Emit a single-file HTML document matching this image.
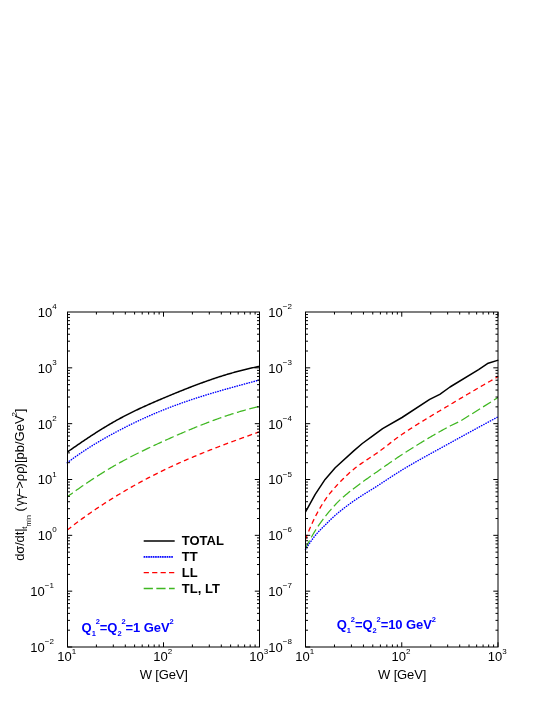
<!DOCTYPE html>
<html><head><meta charset="utf-8"><title>chart</title><style>html,body{margin:0;padding:0;background:#fff}body{width:545px;height:705px;overflow:hidden}</style></head><body>
<svg width="545" height="705" viewBox="0 0 545 705" style="display:block;will-change:transform">
<rect width="545" height="705" fill="#fff"/>
<g fill="none" stroke-linejoin="round">
<clipPath id="cl"><rect x="67.5" y="312" width="192" height="335"/></clipPath>
<path d="M65.30,498.27 L67.30,496.80 L68.30,496.07 L69.30,495.34 L70.30,494.61 L71.30,493.89 L72.30,493.16 L73.30,492.44 L74.30,491.73 L75.30,491.02 L76.30,490.31 L77.30,489.60 L78.30,488.90 L79.30,488.19 L80.30,487.50 L81.30,486.80 L82.30,486.11 L83.30,485.42 L84.30,484.74 L85.30,484.06 L86.30,483.38 L87.30,482.70 L88.30,482.03 L89.30,481.36 L90.30,480.70 L91.30,480.03 L92.30,479.38 L93.30,478.72 L94.30,478.07 L95.30,477.42 L96.30,476.78 L97.30,476.13 L98.30,475.50 L99.30,474.86 L100.30,474.23 L101.30,473.61 L102.30,472.98 L103.30,472.36 L104.30,471.75 L105.30,471.14 L106.30,470.53 L107.30,469.92 L108.30,469.32 L109.30,468.73 L110.30,468.13 L111.30,467.54 L112.30,466.96 L113.30,466.38 L114.30,465.80 L115.30,465.23 L116.30,464.66 L117.30,464.09 L118.30,463.53 L119.30,462.98 L120.30,462.42 L121.30,461.87 L122.30,461.33 L123.30,460.78 L124.30,460.24 L125.30,459.71 L126.30,459.18 L127.30,458.65 L128.30,458.12 L129.30,457.60 L130.30,457.08 L131.30,456.56 L132.30,456.05 L133.30,455.54 L134.30,455.03 L135.30,454.53 L136.30,454.02 L137.30,453.52 L138.30,453.03 L139.30,452.53 L140.30,452.04 L141.30,451.55 L142.30,451.07 L143.30,450.58 L144.30,450.10 L145.30,449.62 L146.30,449.14 L147.30,448.66 L148.30,448.19 L149.30,447.72 L150.30,447.24 L151.30,446.78 L152.30,446.31 L153.30,445.84 L154.30,445.38 L155.30,444.92 L156.30,444.46 L157.30,444.00 L158.30,443.54 L159.30,443.08 L160.30,442.63 L161.30,442.17 L162.30,441.72 L163.30,441.26 L164.30,440.81 L165.30,440.36 L166.30,439.91 L167.30,439.46 L168.30,439.02 L169.30,438.57 L170.30,438.12 L171.30,437.68 L172.30,437.24 L173.30,436.80 L174.30,436.36 L175.30,435.92 L176.30,435.48 L177.30,435.04 L178.30,434.61 L179.30,434.17 L180.30,433.74 L181.30,433.31 L182.30,432.88 L183.30,432.45 L184.30,432.03 L185.30,431.60 L186.30,431.18 L187.30,430.76 L188.30,430.33 L189.30,429.92 L190.30,429.50 L191.30,429.08 L192.30,428.67 L193.30,428.26 L194.30,427.85 L195.30,427.44 L196.30,427.04 L197.30,426.63 L198.30,426.23 L199.30,425.83 L200.30,425.43 L201.30,425.03 L202.30,424.64 L203.30,424.25 L204.30,423.86 L205.30,423.47 L206.30,423.08 L207.30,422.70 L208.30,422.32 L209.30,421.94 L210.30,421.56 L211.30,421.19 L212.30,420.82 L213.30,420.45 L214.30,420.08 L215.30,419.71 L216.30,419.35 L217.30,418.99 L218.30,418.63 L219.30,418.27 L220.30,417.92 L221.30,417.57 L222.30,417.22 L223.30,416.88 L224.30,416.54 L225.30,416.20 L226.30,415.86 L227.30,415.52 L228.30,415.19 L229.30,414.86 L230.30,414.54 L231.30,414.21 L232.30,413.89 L233.30,413.57 L234.30,413.26 L235.30,412.95 L236.30,412.64 L237.30,412.33 L238.30,412.03 L239.30,411.73 L240.30,411.43 L241.30,411.14 L242.30,410.85 L243.30,410.56 L244.30,410.28 L245.30,410.00 L246.30,409.72 L247.30,409.45 L248.30,409.18 L249.30,408.91 L250.30,408.64 L251.30,408.38 L252.30,408.13 L253.30,407.87 L254.30,407.62 L255.30,407.38 L256.30,407.13 L257.30,406.89 L258.30,406.66 L259.30,406.42 L259.40,406.40" stroke="#3fb721" stroke-width="1.25" stroke-dasharray="9.3 3.55" clip-path="url(#cl)"/>
<path d="M67.30,530.00 L68.30,529.21 L69.30,528.42 L70.30,527.64 L71.30,526.87 L72.30,526.09 L73.30,525.33 L74.30,524.56 L75.30,523.81 L76.30,523.05 L77.30,522.30 L78.30,521.56 L79.30,520.81 L80.30,520.08 L81.30,519.34 L82.30,518.61 L83.30,517.89 L84.30,517.17 L85.30,516.45 L86.30,515.74 L87.30,515.03 L88.30,514.32 L89.30,513.62 L90.30,512.92 L91.30,512.23 L92.30,511.54 L93.30,510.85 L94.30,510.17 L95.30,509.49 L96.30,508.82 L97.30,508.15 L98.30,507.48 L99.30,506.81 L100.30,506.15 L101.30,505.49 L102.30,504.84 L103.30,504.19 L104.30,503.54 L105.30,502.89 L106.30,502.25 L107.30,501.61 L108.30,500.98 L109.30,500.35 L110.30,499.72 L111.30,499.09 L112.30,498.47 L113.30,497.85 L114.30,497.23 L115.30,496.62 L116.30,496.00 L117.30,495.40 L118.30,494.79 L119.30,494.19 L120.30,493.59 L121.30,492.99 L122.30,492.39 L123.30,491.80 L124.30,491.21 L125.30,490.63 L126.30,490.04 L127.30,489.46 L128.30,488.89 L129.30,488.31 L130.30,487.74 L131.30,487.17 L132.30,486.60 L133.30,486.04 L134.30,485.48 L135.30,484.92 L136.30,484.36 L137.30,483.81 L138.30,483.26 L139.30,482.71 L140.30,482.17 L141.30,481.62 L142.30,481.08 L143.30,480.55 L144.30,480.01 L145.30,479.48 L146.30,478.95 L147.30,478.42 L148.30,477.90 L149.30,477.38 L150.30,476.86 L151.30,476.34 L152.30,475.83 L153.30,475.32 L154.30,474.81 L155.30,474.31 L156.30,473.80 L157.30,473.30 L158.30,472.81 L159.30,472.31 L160.30,471.82 L161.30,471.33 L162.30,470.84 L163.30,470.35 L164.30,469.87 L165.30,469.39 L166.30,468.91 L167.30,468.44 L168.30,467.97 L169.30,467.50 L170.30,467.03 L171.30,466.56 L172.30,466.10 L173.30,465.64 L174.30,465.18 L175.30,464.72 L176.30,464.27 L177.30,463.82 L178.30,463.37 L179.30,462.92 L180.30,462.48 L181.30,462.03 L182.30,461.59 L183.30,461.15 L184.30,460.71 L185.30,460.28 L186.30,459.85 L187.30,459.42 L188.30,458.99 L189.30,458.56 L190.30,458.13 L191.30,457.71 L192.30,457.29 L193.30,456.87 L194.30,456.45 L195.30,456.03 L196.30,455.62 L197.30,455.20 L198.30,454.79 L199.30,454.38 L200.30,453.97 L201.30,453.57 L202.30,453.16 L203.30,452.76 L204.30,452.36 L205.30,451.96 L206.30,451.56 L207.30,451.16 L208.30,450.76 L209.30,450.37 L210.30,449.97 L211.30,449.58 L212.30,449.19 L213.30,448.80 L214.30,448.41 L215.30,448.03 L216.30,447.64 L217.30,447.26 L218.30,446.87 L219.30,446.49 L220.30,446.11 L221.30,445.73 L222.30,445.35 L223.30,444.97 L224.30,444.59 L225.30,444.22 L226.30,443.84 L227.30,443.47 L228.30,443.10 L229.30,442.72 L230.30,442.35 L231.30,441.98 L232.30,441.61 L233.30,441.24 L234.30,440.87 L235.30,440.51 L236.30,440.14 L237.30,439.77 L238.30,439.41 L239.30,439.04 L240.30,438.68 L241.30,438.31 L242.30,437.95 L243.30,437.59 L244.30,437.23 L245.30,436.86 L246.30,436.50 L247.30,436.14 L248.30,435.78 L249.30,435.42 L250.30,435.06 L251.30,434.70 L252.30,434.34 L253.30,433.98 L254.30,433.63 L255.30,433.27 L256.30,432.91 L257.30,432.55 L258.30,432.19 L259.30,431.84 L259.40,431.80" stroke="#ff0000" stroke-width="1.3" stroke-dasharray="5 3.5"/>
<path d="M67.30,462.70 L68.30,461.95 L69.30,461.20 L70.30,460.46 L71.30,459.73 L72.30,459.00 L73.30,458.28 L74.30,457.56 L75.30,456.85 L76.30,456.15 L77.30,455.45 L78.30,454.75 L79.30,454.07 L80.30,453.39 L81.30,452.71 L82.30,452.04 L83.30,451.38 L84.30,450.72 L85.30,450.06 L86.30,449.41 L87.30,448.77 L88.30,448.13 L89.30,447.49 L90.30,446.86 L91.30,446.24 L92.30,445.62 L93.30,445.00 L94.30,444.39 L95.30,443.78 L96.30,443.18 L97.30,442.58 L98.30,441.99 L99.30,441.40 L100.30,440.81 L101.30,440.23 L102.30,439.65 L103.30,439.07 L104.30,438.50 L105.30,437.93 L106.30,437.37 L107.30,436.81 L108.30,436.25 L109.30,435.70 L110.30,435.15 L111.30,434.60 L112.30,434.06 L113.30,433.51 L114.30,432.98 L115.30,432.44 L116.30,431.91 L117.30,431.38 L118.30,430.85 L119.30,430.32 L120.30,429.80 L121.30,429.28 L122.30,428.77 L123.30,428.25 L124.30,427.74 L125.30,427.23 L126.30,426.73 L127.30,426.22 L128.30,425.72 L129.30,425.23 L130.30,424.73 L131.30,424.24 L132.30,423.75 L133.30,423.27 L134.30,422.78 L135.30,422.30 L136.30,421.82 L137.30,421.35 L138.30,420.88 L139.30,420.41 L140.30,419.94 L141.30,419.48 L142.30,419.02 L143.30,418.56 L144.30,418.10 L145.30,417.65 L146.30,417.20 L147.30,416.75 L148.30,416.31 L149.30,415.87 L150.30,415.43 L151.30,414.99 L152.30,414.56 L153.30,414.13 L154.30,413.70 L155.30,413.28 L156.30,412.86 L157.30,412.44 L158.30,412.02 L159.30,411.61 L160.30,411.20 L161.30,410.79 L162.30,410.38 L163.30,409.98 L164.30,409.58 L165.30,409.18 L166.30,408.79 L167.30,408.40 L168.30,408.01 L169.30,407.62 L170.30,407.24 L171.30,406.86 L172.30,406.48 L173.30,406.10 L174.30,405.73 L175.30,405.36 L176.30,404.99 L177.30,404.63 L178.30,404.26 L179.30,403.90 L180.30,403.54 L181.30,403.19 L182.30,402.83 L183.30,402.48 L184.30,402.13 L185.30,401.78 L186.30,401.44 L187.30,401.09 L188.30,400.75 L189.30,400.41 L190.30,400.08 L191.30,399.74 L192.30,399.41 L193.30,399.08 L194.30,398.75 L195.30,398.42 L196.30,398.09 L197.30,397.77 L198.30,397.45 L199.30,397.13 L200.30,396.81 L201.30,396.49 L202.30,396.18 L203.30,395.86 L204.30,395.55 L205.30,395.24 L206.30,394.93 L207.30,394.62 L208.30,394.32 L209.30,394.01 L210.30,393.71 L211.30,393.41 L212.30,393.11 L213.30,392.81 L214.30,392.51 L215.30,392.22 L216.30,391.92 L217.30,391.63 L218.30,391.34 L219.30,391.05 L220.30,390.76 L221.30,390.47 L222.30,390.18 L223.30,389.89 L224.30,389.61 L225.30,389.32 L226.30,389.04 L227.30,388.76 L228.30,388.47 L229.30,388.19 L230.30,387.91 L231.30,387.63 L232.30,387.35 L233.30,387.08 L234.30,386.80 L235.30,386.52 L236.30,386.25 L237.30,385.97 L238.30,385.70 L239.30,385.42 L240.30,385.15 L241.30,384.88 L242.30,384.61 L243.30,384.33 L244.30,384.06 L245.30,383.79 L246.30,383.52 L247.30,383.25 L248.30,382.98 L249.30,382.71 L250.30,382.44 L251.30,382.17 L252.30,381.91 L253.30,381.64 L254.30,381.37 L255.30,381.10 L256.30,380.83 L257.30,380.56 L258.30,380.29 L259.30,380.03 L259.40,380.00" stroke="#0000ff" stroke-width="1.45" stroke-linecap="round" stroke-dasharray="0.3 2.2"/>
<path d="M67.30,452.10 L68.30,451.40 L69.30,450.70 L70.30,450.00 L71.30,449.31 L72.30,448.61 L73.30,447.92 L74.30,447.22 L75.30,446.53 L76.30,445.84 L77.30,445.16 L78.30,444.47 L79.30,443.78 L80.30,443.10 L81.30,442.42 L82.30,441.74 L83.30,441.06 L84.30,440.39 L85.30,439.72 L86.30,439.05 L87.30,438.38 L88.30,437.71 L89.30,437.05 L90.30,436.39 L91.30,435.73 L92.30,435.08 L93.30,434.43 L94.30,433.78 L95.30,433.14 L96.30,432.49 L97.30,431.86 L98.30,431.22 L99.30,430.59 L100.30,429.96 L101.30,429.34 L102.30,428.72 L103.30,428.10 L104.30,427.49 L105.30,426.88 L106.30,426.27 L107.30,425.67 L108.30,425.08 L109.30,424.49 L110.30,423.90 L111.30,423.32 L112.30,422.74 L113.30,422.16 L114.30,421.60 L115.30,421.03 L116.30,420.47 L117.30,419.92 L118.30,419.37 L119.30,418.82 L120.30,418.28 L121.30,417.75 L122.30,417.22 L123.30,416.69 L124.30,416.17 L125.30,415.65 L126.30,415.13 L127.30,414.62 L128.30,414.11 L129.30,413.61 L130.30,413.11 L131.30,412.62 L132.30,412.12 L133.30,411.64 L134.30,411.15 L135.30,410.67 L136.30,410.19 L137.30,409.71 L138.30,409.24 L139.30,408.77 L140.30,408.30 L141.30,407.84 L142.30,407.38 L143.30,406.92 L144.30,406.46 L145.30,406.01 L146.30,405.56 L147.30,405.11 L148.30,404.66 L149.30,404.22 L150.30,403.78 L151.30,403.34 L152.30,402.90 L153.30,402.46 L154.30,402.03 L155.30,401.59 L156.30,401.16 L157.30,400.73 L158.30,400.30 L159.30,399.87 L160.30,399.45 L161.30,399.02 L162.30,398.60 L163.30,398.17 L164.30,397.75 L165.30,397.33 L166.30,396.91 L167.30,396.49 L168.30,396.07 L169.30,395.65 L170.30,395.24 L171.30,394.82 L172.30,394.41 L173.30,393.99 L174.30,393.58 L175.30,393.17 L176.30,392.76 L177.30,392.35 L178.30,391.95 L179.30,391.54 L180.30,391.14 L181.30,390.74 L182.30,390.34 L183.30,389.94 L184.30,389.54 L185.30,389.14 L186.30,388.75 L187.30,388.35 L188.30,387.96 L189.30,387.57 L190.30,387.19 L191.30,386.80 L192.30,386.42 L193.30,386.03 L194.30,385.65 L195.30,385.27 L196.30,384.90 L197.30,384.52 L198.30,384.15 L199.30,383.78 L200.30,383.41 L201.30,383.04 L202.30,382.68 L203.30,382.32 L204.30,381.96 L205.30,381.60 L206.30,381.24 L207.30,380.89 L208.30,380.54 L209.30,380.19 L210.30,379.84 L211.30,379.50 L212.30,379.16 L213.30,378.82 L214.30,378.48 L215.30,378.15 L216.30,377.81 L217.30,377.48 L218.30,377.16 L219.30,376.83 L220.30,376.51 L221.30,376.19 L222.30,375.88 L223.30,375.57 L224.30,375.26 L225.30,374.95 L226.30,374.64 L227.30,374.34 L228.30,374.04 L229.30,373.75 L230.30,373.46 L231.30,373.17 L232.30,372.88 L233.30,372.60 L234.30,372.32 L235.30,372.04 L236.30,371.77 L237.30,371.49 L238.30,371.23 L239.30,370.96 L240.30,370.70 L241.30,370.44 L242.30,370.19 L243.30,369.94 L244.30,369.69 L245.30,369.45 L246.30,369.21 L247.30,368.97 L248.30,368.74 L249.30,368.51 L250.30,368.28 L251.30,368.06 L252.30,367.84 L253.30,367.63 L254.30,367.42 L255.30,367.21 L256.30,367.01 L257.30,366.81 L258.30,366.61 L259.30,366.42 L259.40,366.40" stroke="#000" stroke-width="1.5"/>
<clipPath id="cr"><rect x="305.5" y="312" width="192.5" height="335"/></clipPath>
<path d="M305.30,548.80 L305.50,548.40 L306.50,546.40 L307.50,544.44 L308.50,542.51 L309.50,540.63 L310.50,538.78 L311.50,536.98 L312.50,535.23 L313.50,533.52 L314.50,531.85 L315.50,530.24 L316.50,528.67 L317.50,527.15 L318.50,525.66 L319.50,524.21 L320.50,522.79 L321.50,521.40 L322.50,520.04 L323.50,518.71 L324.50,517.40 L325.50,516.12 L326.50,514.86 L327.50,513.62 L328.50,512.41 L329.50,511.22 L330.50,510.05 L331.50,508.90 L332.50,507.77 L333.50,506.66 L334.50,505.56 L335.50,504.48 L336.50,503.41 L337.50,502.36 L338.50,501.35 L339.50,500.37 L340.50,499.44 L341.50,498.53 L342.50,497.64 L343.50,496.76 L344.50,495.91 L345.50,495.06 L346.50,494.24 L347.50,493.42 L348.50,492.61 L349.50,491.81 L350.50,491.02 L351.50,490.24 L352.50,489.46 L353.50,488.69 L354.50,487.91 L355.50,487.15 L356.50,486.39 L357.50,485.64 L358.50,484.90 L359.50,484.16 L360.50,483.43 L361.50,482.70 L362.50,481.98 L363.50,481.26 L364.50,480.55 L365.50,479.84 L366.50,479.13 L367.50,478.43 L368.50,477.73 L369.50,477.03 L370.50,476.33 L371.50,475.63 L372.50,474.94 L373.50,474.24 L374.50,473.55 L375.50,472.85 L376.50,472.15 L377.50,471.45 L378.50,470.75 L379.50,470.05 L380.50,469.34 L381.50,468.64 L382.50,467.93 L383.50,467.23 L384.50,466.53 L385.50,465.82 L386.50,465.12 L387.50,464.42 L388.50,463.72 L389.50,463.02 L390.50,462.33 L391.50,461.64 L392.50,460.95 L393.50,460.26 L394.50,459.58 L395.50,458.90 L396.50,458.22 L397.50,457.55 L398.50,456.89 L399.50,456.23 L400.50,455.57 L401.50,454.92 L402.50,454.28 L403.50,453.64 L404.50,453.00 L405.50,452.36 L406.50,451.72 L407.50,451.08 L408.50,450.45 L409.50,449.82 L410.50,449.19 L411.50,448.56 L412.50,447.93 L413.50,447.30 L414.50,446.68 L415.50,446.06 L416.50,445.44 L417.50,444.82 L418.50,444.20 L419.50,443.59 L420.50,442.98 L421.50,442.37 L422.50,441.76 L423.50,441.15 L424.50,440.55 L425.50,439.95 L426.50,439.35 L427.50,438.75 L428.50,438.16 L429.50,437.56 L430.50,436.97 L431.50,436.39 L432.50,435.80 L433.50,435.22 L434.50,434.64 L435.50,434.06 L436.50,433.49 L437.50,432.92 L438.50,432.35 L439.50,431.78 L440.50,431.22 L441.50,430.65 L442.50,430.10 L443.50,429.54 L444.50,428.99 L445.50,428.44 L446.50,427.89 L447.50,427.35 L448.50,426.81 L449.50,426.27 L450.00,426.00 L460.10,421.30 L498.30,397.30" stroke="#3fb721" stroke-width="1.25" stroke-dasharray="9.3 3.55" clip-path="url(#cr)"/>
<path d="M305.50,539.40 L306.50,536.81 L307.50,534.27 L308.50,531.79 L309.50,529.37 L310.50,527.02 L311.50,524.73 L312.50,522.52 L313.50,520.37 L314.50,518.30 L315.50,516.30 L316.50,514.37 L317.50,512.50 L318.50,510.67 L319.50,508.90 L320.50,507.18 L321.50,505.52 L322.50,503.90 L323.50,502.34 L324.50,500.83 L325.50,499.37 L326.50,497.95 L327.50,496.58 L328.50,495.25 L329.50,493.96 L330.50,492.70 L331.50,491.48 L332.50,490.28 L333.50,489.12 L334.50,487.98 L335.50,486.87 L336.50,485.77 L337.50,484.68 L338.50,483.61 L339.50,482.56 L340.50,481.52 L341.50,480.49 L342.50,479.48 L343.50,478.49 L344.50,477.50 L345.50,476.54 L346.50,475.59 L347.50,474.66 L348.50,473.74 L349.50,472.84 L350.50,471.96 L351.50,471.09 L352.50,470.24 L353.50,469.41 L354.50,468.60 L355.50,467.80 L356.50,467.03 L357.50,466.27 L358.50,465.53 L359.50,464.81 L360.50,464.10 L361.50,463.40 L362.50,462.71 L363.50,462.03 L364.50,461.36 L365.50,460.70 L366.50,460.04 L367.50,459.38 L368.50,458.72 L369.50,458.07 L370.50,457.41 L371.50,456.75 L372.50,456.09 L373.50,455.42 L374.50,454.75 L375.50,454.06 L376.50,453.37 L377.50,452.66 L378.50,451.94 L379.50,451.21 L380.50,450.47 L381.50,449.73 L382.50,448.98 L383.50,448.22 L384.50,447.46 L385.50,446.70 L386.50,445.93 L387.50,445.16 L388.50,444.39 L389.50,443.62 L390.50,442.86 L391.50,442.09 L392.50,441.33 L393.50,440.57 L394.50,439.81 L395.50,439.07 L396.50,438.32 L397.50,437.59 L398.50,436.86 L399.50,436.15 L400.50,435.44 L401.50,434.74 L402.50,434.06 L403.50,433.38 L404.50,432.71 L405.50,432.04 L406.50,431.37 L407.50,430.71 L408.50,430.05 L409.50,429.40 L410.50,428.75 L411.50,428.10 L412.50,427.46 L413.50,426.82 L414.50,426.18 L415.50,425.55 L416.50,424.92 L417.50,424.29 L418.50,423.66 L419.50,423.04 L420.50,422.42 L421.50,421.81 L422.50,421.19 L423.50,420.58 L424.50,419.97 L425.50,419.36 L426.50,418.75 L427.50,418.15 L428.50,417.54 L429.50,416.94 L430.50,416.34 L431.50,415.74 L432.50,415.14 L433.50,414.54 L434.50,413.94 L435.50,413.35 L436.50,412.75 L437.50,412.16 L438.50,411.56 L439.50,410.97 L440.50,410.37 L441.50,409.78 L442.50,409.18 L443.50,408.59 L444.50,407.99 L445.50,407.39 L446.50,406.80 L447.50,406.20 L448.50,405.60 L449.50,405.00 L450.50,404.40 L451.50,403.80 L452.50,403.20 L453.50,402.60 L454.50,402.00 L455.50,401.41 L456.50,400.81 L457.50,400.21 L458.50,399.62 L459.50,399.02 L460.50,398.43 L461.50,397.84 L462.50,397.24 L463.50,396.65 L464.50,396.06 L465.50,395.47 L466.50,394.88 L467.50,394.29 L468.50,393.70 L469.50,393.12 L470.50,392.53 L471.50,391.94 L472.50,391.36 L473.50,390.77 L474.50,390.19 L475.50,389.60 L476.50,389.02 L477.50,388.44 L478.50,387.86 L479.50,387.28 L480.50,386.70 L481.50,386.12 L482.50,385.54 L483.50,384.96 L484.50,384.39 L485.50,383.81 L486.50,383.23 L487.50,382.66 L488.50,382.09 L489.50,381.51 L490.50,380.94 L491.50,380.37 L492.50,379.80 L493.50,379.23 L494.50,378.66 L495.50,378.09 L496.50,377.52 L497.50,376.95 L498.30,376.50" stroke="#ff0000" stroke-width="1.3" stroke-dasharray="5 3.5"/>
<path d="M305.50,549.70 L306.50,548.07 L307.50,546.47 L308.50,544.90 L309.50,543.38 L310.50,541.90 L311.50,540.46 L312.50,539.07 L313.50,537.72 L314.50,536.43 L315.50,535.18 L316.50,533.98 L317.50,532.84 L318.50,531.73 L319.50,530.67 L320.50,529.63 L321.50,528.61 L322.50,527.60 L323.50,526.60 L324.50,525.60 L325.50,524.60 L326.50,523.59 L327.50,522.60 L328.50,521.61 L329.50,520.63 L330.50,519.66 L331.50,518.70 L332.50,517.76 L333.50,516.83 L334.50,515.92 L335.50,515.04 L336.50,514.17 L337.50,513.33 L338.50,512.51 L339.50,511.70 L340.50,510.90 L341.50,510.11 L342.50,509.33 L343.50,508.55 L344.50,507.77 L345.50,507.01 L346.50,506.25 L347.50,505.50 L348.50,504.75 L349.50,504.01 L350.50,503.28 L351.50,502.56 L352.50,501.85 L353.50,501.15 L354.50,500.45 L355.50,499.77 L356.50,499.09 L357.50,498.43 L358.50,497.77 L359.50,497.11 L360.50,496.47 L361.50,495.82 L362.50,495.19 L363.50,494.56 L364.50,493.93 L365.50,493.30 L366.50,492.68 L367.50,492.06 L368.50,491.44 L369.50,490.82 L370.50,490.20 L371.50,489.59 L372.50,488.96 L373.50,488.34 L374.50,487.72 L375.50,487.09 L376.50,486.46 L377.50,485.82 L378.50,485.18 L379.50,484.53 L380.50,483.88 L381.50,483.23 L382.50,482.58 L383.50,481.92 L384.50,481.27 L385.50,480.61 L386.50,479.95 L387.50,479.29 L388.50,478.63 L389.50,477.97 L390.50,477.31 L391.50,476.66 L392.50,476.01 L393.50,475.36 L394.50,474.71 L395.50,474.07 L396.50,473.43 L397.50,472.79 L398.50,472.16 L399.50,471.54 L400.50,470.92 L401.50,470.30 L402.50,469.70 L403.50,469.09 L404.50,468.50 L405.50,467.90 L406.50,467.30 L407.50,466.71 L408.50,466.13 L409.50,465.54 L410.50,464.96 L411.50,464.38 L412.50,463.80 L413.50,463.22 L414.50,462.65 L415.50,462.08 L416.50,461.51 L417.50,460.94 L418.50,460.38 L419.50,459.81 L420.50,459.25 L421.50,458.69 L422.50,458.13 L423.50,457.57 L424.50,457.02 L425.50,456.46 L426.50,455.91 L427.50,455.35 L428.50,454.80 L429.50,454.25 L430.50,453.70 L431.50,453.15 L432.50,452.60 L433.50,452.05 L434.50,451.51 L435.50,450.96 L436.50,450.41 L437.50,449.86 L438.50,449.32 L439.50,448.77 L440.50,448.22 L441.50,447.67 L442.50,447.13 L443.50,446.58 L444.50,446.03 L445.50,445.48 L446.50,444.93 L447.50,444.38 L448.50,443.83 L449.50,443.28 L450.50,442.72 L451.50,442.17 L452.50,441.62 L453.50,441.07 L454.50,440.51 L455.50,439.96 L456.50,439.41 L457.50,438.86 L458.50,438.31 L459.50,437.76 L460.50,437.21 L461.50,436.66 L462.50,436.11 L463.50,435.56 L464.50,435.01 L465.50,434.47 L466.50,433.92 L467.50,433.37 L468.50,432.82 L469.50,432.28 L470.50,431.73 L471.50,431.19 L472.50,430.64 L473.50,430.10 L474.50,429.55 L475.50,429.01 L476.50,428.46 L477.50,427.92 L478.50,427.38 L479.50,426.83 L480.50,426.29 L481.50,425.75 L482.50,425.21 L483.50,424.67 L484.50,424.13 L485.50,423.59 L486.50,423.05 L487.50,422.51 L488.50,421.97 L489.50,421.43 L490.50,420.89 L491.50,420.35 L492.50,419.81 L493.50,419.27 L494.50,418.74 L495.50,418.20 L496.50,417.66 L497.50,417.13 L498.30,416.70" stroke="#0000ff" stroke-width="1.45" stroke-linecap="round" stroke-dasharray="0.3 2.2"/>
<path d="M305.50,512.00 L315.20,494.40 L325.10,479.40 L335.20,467.80 L354.00,450.60 L362.30,443.50 L372.40,436.10 L382.60,428.70 L402.00,417.50 L429.70,399.40 L439.80,394.30 L450.00,387.00 L478.60,369.60 L488.20,363.20 L498.30,360.10" stroke="#000" stroke-width="1.5"/>
</g>
<g stroke="#000" stroke-width="1" fill="none" shape-rendering="auto">
<rect x="67.5" y="312.0" width="192.00" height="335.00"/>
<path d="M67.5,351.03h2.5M259.5,351.03h-2.5M67.5,341.19h2.5M259.5,341.19h-2.5M67.5,334.22h2.5M259.5,334.22h-2.5M67.5,328.81h2.5M259.5,328.81h-2.5M67.5,324.39h2.5M259.5,324.39h-2.5M67.5,320.65h2.5M259.5,320.65h-2.5M67.5,317.41h2.5M259.5,317.41h-2.5M67.5,314.55h2.5M259.5,314.55h-2.5M67.5,367.83h4.7M259.5,367.83h-4.7M67.5,406.86h2.5M259.5,406.86h-2.5M67.5,397.03h2.5M259.5,397.03h-2.5M67.5,390.05h2.5M259.5,390.05h-2.5M67.5,384.64h2.5M259.5,384.64h-2.5M67.5,380.22h2.5M259.5,380.22h-2.5M67.5,376.48h2.5M259.5,376.48h-2.5M67.5,373.24h2.5M259.5,373.24h-2.5M67.5,370.39h2.5M259.5,370.39h-2.5M67.5,423.67h4.7M259.5,423.67h-4.7M67.5,462.69h2.5M259.5,462.69h-2.5M67.5,452.86h2.5M259.5,452.86h-2.5M67.5,445.88h2.5M259.5,445.88h-2.5M67.5,440.47h2.5M259.5,440.47h-2.5M67.5,436.05h2.5M259.5,436.05h-2.5M67.5,432.32h2.5M259.5,432.32h-2.5M67.5,429.08h2.5M259.5,429.08h-2.5M67.5,426.22h2.5M259.5,426.22h-2.5M67.5,479.50h4.7M259.5,479.50h-4.7M67.5,518.53h2.5M259.5,518.53h-2.5M67.5,508.69h2.5M259.5,508.69h-2.5M67.5,501.72h2.5M259.5,501.72h-2.5M67.5,496.31h2.5M259.5,496.31h-2.5M67.5,491.89h2.5M259.5,491.89h-2.5M67.5,488.15h2.5M259.5,488.15h-2.5M67.5,484.91h2.5M259.5,484.91h-2.5M67.5,482.05h2.5M259.5,482.05h-2.5M67.5,535.33h4.7M259.5,535.33h-4.7M67.5,574.36h2.5M259.5,574.36h-2.5M67.5,564.53h2.5M259.5,564.53h-2.5M67.5,557.55h2.5M259.5,557.55h-2.5M67.5,552.14h2.5M259.5,552.14h-2.5M67.5,547.72h2.5M259.5,547.72h-2.5M67.5,543.98h2.5M259.5,543.98h-2.5M67.5,540.74h2.5M259.5,540.74h-2.5M67.5,537.89h2.5M259.5,537.89h-2.5M67.5,591.17h4.7M259.5,591.17h-4.7M67.5,630.19h2.5M259.5,630.19h-2.5M67.5,620.36h2.5M259.5,620.36h-2.5M67.5,613.38h2.5M259.5,613.38h-2.5M67.5,607.97h2.5M259.5,607.97h-2.5M67.5,603.55h2.5M259.5,603.55h-2.5M67.5,599.82h2.5M259.5,599.82h-2.5M67.5,596.58h2.5M259.5,596.58h-2.5M67.5,593.72h2.5M259.5,593.72h-2.5M67.5,647.00h4.7M67.50,647.0v-4.7M67.50,312.0v4.7M96.40,647.0v-2.5M96.40,312.0v2.5M113.30,647.0v-2.5M113.30,312.0v2.5M125.30,647.0v-2.5M125.30,312.0v2.5M134.60,647.0v-2.5M134.60,312.0v2.5M142.20,647.0v-2.5M142.20,312.0v2.5M148.63,647.0v-2.5M148.63,312.0v2.5M154.20,647.0v-2.5M154.20,312.0v2.5M159.11,647.0v-2.5M159.11,312.0v2.5M163.50,647.0v-4.7M163.50,312.0v4.7M192.40,647.0v-2.5M192.40,312.0v2.5M209.30,647.0v-2.5M209.30,312.0v2.5M221.30,647.0v-2.5M221.30,312.0v2.5M230.60,647.0v-2.5M230.60,312.0v2.5M238.20,647.0v-2.5M238.20,312.0v2.5M244.63,647.0v-2.5M244.63,312.0v2.5M250.20,647.0v-2.5M250.20,312.0v2.5M255.11,647.0v-2.5M255.11,312.0v2.5M259.50,647.0v-4.7M259.50,312.0v4.7"/>
<rect x="305.5" y="312.0" width="192.50" height="335.00"/>
<path d="M305.5,351.03h2.5M498.0,351.03h-2.5M305.5,341.19h2.5M498.0,341.19h-2.5M305.5,334.22h2.5M498.0,334.22h-2.5M305.5,328.81h2.5M498.0,328.81h-2.5M305.5,324.39h2.5M498.0,324.39h-2.5M305.5,320.65h2.5M498.0,320.65h-2.5M305.5,317.41h2.5M498.0,317.41h-2.5M305.5,314.55h2.5M498.0,314.55h-2.5M305.5,367.83h4.7M498.0,367.83h-4.7M305.5,406.86h2.5M498.0,406.86h-2.5M305.5,397.03h2.5M498.0,397.03h-2.5M305.5,390.05h2.5M498.0,390.05h-2.5M305.5,384.64h2.5M498.0,384.64h-2.5M305.5,380.22h2.5M498.0,380.22h-2.5M305.5,376.48h2.5M498.0,376.48h-2.5M305.5,373.24h2.5M498.0,373.24h-2.5M305.5,370.39h2.5M498.0,370.39h-2.5M305.5,423.67h4.7M498.0,423.67h-4.7M305.5,462.69h2.5M498.0,462.69h-2.5M305.5,452.86h2.5M498.0,452.86h-2.5M305.5,445.88h2.5M498.0,445.88h-2.5M305.5,440.47h2.5M498.0,440.47h-2.5M305.5,436.05h2.5M498.0,436.05h-2.5M305.5,432.32h2.5M498.0,432.32h-2.5M305.5,429.08h2.5M498.0,429.08h-2.5M305.5,426.22h2.5M498.0,426.22h-2.5M305.5,479.50h4.7M498.0,479.50h-4.7M305.5,518.53h2.5M498.0,518.53h-2.5M305.5,508.69h2.5M498.0,508.69h-2.5M305.5,501.72h2.5M498.0,501.72h-2.5M305.5,496.31h2.5M498.0,496.31h-2.5M305.5,491.89h2.5M498.0,491.89h-2.5M305.5,488.15h2.5M498.0,488.15h-2.5M305.5,484.91h2.5M498.0,484.91h-2.5M305.5,482.05h2.5M498.0,482.05h-2.5M305.5,535.33h4.7M498.0,535.33h-4.7M305.5,574.36h2.5M498.0,574.36h-2.5M305.5,564.53h2.5M498.0,564.53h-2.5M305.5,557.55h2.5M498.0,557.55h-2.5M305.5,552.14h2.5M498.0,552.14h-2.5M305.5,547.72h2.5M498.0,547.72h-2.5M305.5,543.98h2.5M498.0,543.98h-2.5M305.5,540.74h2.5M498.0,540.74h-2.5M305.5,537.89h2.5M498.0,537.89h-2.5M305.5,591.17h4.7M498.0,591.17h-4.7M305.5,630.19h2.5M498.0,630.19h-2.5M305.5,620.36h2.5M498.0,620.36h-2.5M305.5,613.38h2.5M498.0,613.38h-2.5M305.5,607.97h2.5M498.0,607.97h-2.5M305.5,603.55h2.5M498.0,603.55h-2.5M305.5,599.82h2.5M498.0,599.82h-2.5M305.5,596.58h2.5M498.0,596.58h-2.5M305.5,593.72h2.5M498.0,593.72h-2.5M305.5,647.00h4.7M305.50,647.0v-4.7M305.50,312.0v4.7M334.47,647.0v-2.5M334.47,312.0v2.5M351.42,647.0v-2.5M351.42,312.0v2.5M363.45,647.0v-2.5M363.45,312.0v2.5M372.78,647.0v-2.5M372.78,312.0v2.5M380.40,647.0v-2.5M380.40,312.0v2.5M386.84,647.0v-2.5M386.84,312.0v2.5M392.42,647.0v-2.5M392.42,312.0v2.5M397.35,647.0v-2.5M397.35,312.0v2.5M401.75,647.0v-4.7M401.75,312.0v4.7M430.72,647.0v-2.5M430.72,312.0v2.5M447.67,647.0v-2.5M447.67,312.0v2.5M459.70,647.0v-2.5M459.70,312.0v2.5M469.03,647.0v-2.5M469.03,312.0v2.5M476.65,647.0v-2.5M476.65,312.0v2.5M483.09,647.0v-2.5M483.09,312.0v2.5M488.67,647.0v-2.5M488.67,312.0v2.5M493.60,647.0v-2.5M493.60,312.0v2.5M498.00,647.0v-4.7M498.00,312.0v4.7"/>
</g>
<g font-family="Liberation Sans, sans-serif" font-size="13" fill="#000">
<text x="37.8" y="316.8">10<tspan font-size="8" dy="-7.8">4</tspan></text>
<text x="37.8" y="372.6">10<tspan font-size="8" dy="-7.8">3</tspan></text>
<text x="37.8" y="428.5">10<tspan font-size="8" dy="-7.8">2</tspan></text>
<text x="37.8" y="484.3">10<tspan font-size="8" dy="-7.8">1</tspan></text>
<text x="37.8" y="540.1">10<tspan font-size="8" dy="-7.8">0</tspan></text>
<text x="30.3" y="596.0">10<tspan font-size="8" dy="-7.8">−1</tspan></text>
<text x="30.3" y="651.8">10<tspan font-size="8" dy="-7.8">−2</tspan></text>
<text x="268.3" y="316.8">10<tspan font-size="8" dy="-7.8">−2</tspan></text>
<text x="268.3" y="372.6">10<tspan font-size="8" dy="-7.8">−3</tspan></text>
<text x="268.3" y="428.5">10<tspan font-size="8" dy="-7.8">−4</tspan></text>
<text x="268.3" y="484.3">10<tspan font-size="8" dy="-7.8">−5</tspan></text>
<text x="268.3" y="540.1">10<tspan font-size="8" dy="-7.8">−6</tspan></text>
<text x="268.3" y="596.0">10<tspan font-size="8" dy="-7.8">−7</tspan></text>
<text x="268.3" y="651.8">10<tspan font-size="8" dy="-7.8">−8</tspan></text>
<text x="57.3" y="661.4">10<tspan font-size="8" dy="-7.8">1</tspan></text>
<text x="153.3" y="661.4">10<tspan font-size="8" dy="-7.8">2</tspan></text>
<text x="249.3" y="661.4">10<tspan font-size="8" dy="-7.8">3</tspan></text>
<text x="163.8" y="679" text-anchor="middle" letter-spacing="-0.15">W [GeV]</text>
<text x="295.3" y="661.4">10<tspan font-size="8" dy="-7.8">1</tspan></text>
<text x="391.6" y="661.4">10<tspan font-size="8" dy="-7.8">2</tspan></text>
<text x="487.8" y="661.4">10<tspan font-size="8" dy="-7.8">3</tspan></text>
<text x="402.1" y="679" text-anchor="middle" letter-spacing="-0.15">W [GeV]</text>
<g transform="translate(23.5,560.8) rotate(-90)">
<text x="0" letter-spacing="-0.15">dσ/dt|</text>
<text x="32.0" font-size="8" y="3.5">t</text>
<text x="34.3" font-size="7" y="7.3">min</text>
<text x="49.3" >(</text>
<text x="54.9" textLength="11.8" lengthAdjust="spacingAndGlyphs">γγ</text>
<text x="64.8" textLength="8.2" lengthAdjust="spacingAndGlyphs">−</text>
<text x="72.0" >&gt;</text>
<text x="79.6" >ρρ</text>
<text x="93.3" >)</text>
<text x="97.7" >[pb/GeV</text>
<text x="144.4" font-size="8" y="-7">2</text>
<text x="148.6" >]</text>
</g>
</g>
<g fill="none" stroke-width="1.5">
<path d="M143.7,541.0H174.7" stroke="#000"/>
<path d="M144.3,556.9H174.0" stroke="#0000ff" stroke-width="1.7" stroke-linecap="round" stroke-dasharray="0.3 2.0"/>
<path d="M143.7,572.6H174.7" stroke="#ff0000" stroke-width="1.4" stroke-dasharray="5.2 3.25"/>
<path d="M143.7,588.6H174.7" stroke="#3fb721" stroke-dasharray="9.2 3.45"/>
</g>
<g font-family="Liberation Sans, sans-serif" font-size="13" font-weight="bold" fill="#000">
<text x="181.8" y="545.3">TOTAL</text>
<text x="181.8" y="561.3">TT</text>
<text x="181.8" y="577.2">LL</text>
<text x="181.8" y="593.2">TL, LT</text>
</g>
<text x="81.6" y="631.9" font-family="Liberation Sans, sans-serif" font-size="13" font-weight="bold" fill="#0000ff" letter-spacing="-0.08">Q<tspan font-size="7.5" dy="3.9">1</tspan><tspan font-size="7.5" dy="-11.4">2</tspan><tspan dy="7.5">=Q</tspan><tspan font-size="7.5" dy="3.9">2</tspan><tspan font-size="7.5" dy="-11.4">2</tspan><tspan dy="7.5">=1 GeV</tspan><tspan font-size="7.5" dy="-7.5">2</tspan></text>
<text x="336.7" y="629.2" font-family="Liberation Sans, sans-serif" font-size="13" font-weight="bold" fill="#0000ff" letter-spacing="-0.08">Q<tspan font-size="7.5" dy="3.9">1</tspan><tspan font-size="7.5" dy="-11.4">2</tspan><tspan dy="7.5">=Q</tspan><tspan font-size="7.5" dy="3.9">2</tspan><tspan font-size="7.5" dy="-11.4">2</tspan><tspan dy="7.5">=10 GeV</tspan><tspan font-size="7.5" dy="-7.5">2</tspan></text>
</svg>
</body></html>
